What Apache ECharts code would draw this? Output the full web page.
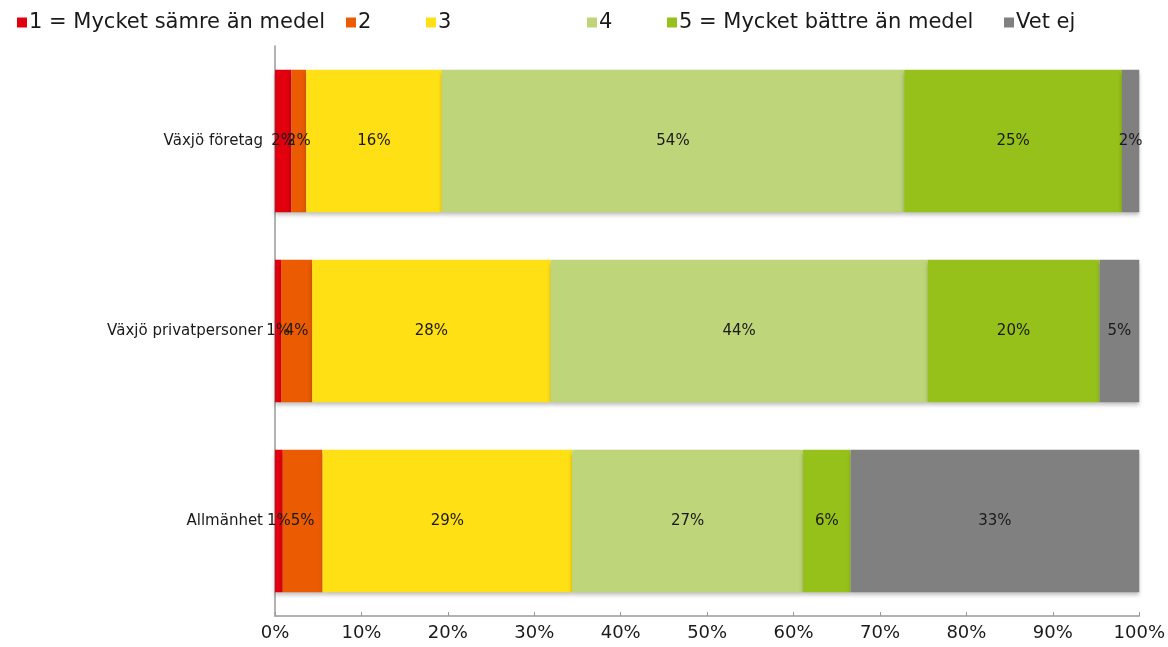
<!DOCTYPE html>
<html>
<head>
<meta charset="utf-8">
<script src="https://cdn.jsdelivr.net/npm/echarts@6/dist/echarts.min.js"></script>
<style>
  html, body { margin: 0; padding: 0; background: #fff; }
  #chart { width: 1168px; height: 647px; }
</style>
</head>
<body>
<div id="chart"></div>
<script>
// kategorier, nedifrån och upp (ECharts ritar första kategorin längst ner)
var categories = ['Allmänhet', 'Växjö privatpersoner', 'Växjö företag']
var seriesNames = ['1 = Mycket sämre än medel', '2', '3', '4', '5 = Mycket bättre än medel', 'Vet ej']
var colors = ['#e2000f', '#ea5b02', '#ffe014', '#bfd57a', '#95c11a', '#808080']

// andelar i procent
var s1 = [0.9, 0.7, 1.9]
var s2 = [4.6, 3.6, 1.7]
var s3 = [28.9, 27.6, 15.7]
var s4 = [26.7, 43.6, 53.5]
var s5 = [5.5, 19.9, 25.2]
var s6 = [33.4, 4.6, 2.0]
var values = [s1, s2, s3, s4, s5, s6]

var xTicks = [0, 10, 20, 30, 40, 50, 60, 70, 80, 90, 100]

// legendens placering, en legend per post (ojämna avstånd i originalet)
var legendLeft = [12, 341, 421, 582, 662, 999]

var font = '"DejaVu Sans", "Liberation Sans", sans-serif'

var chart = echarts.init(document.getElementById('chart'))

var legends = seriesNames.map(function (name, i) {
  return {
    data: [name],
    left: legendLeft[i],
    top: 7,
    icon: 'rect',
    itemWidth: 10,
    itemHeight: 10,
    itemGap: 0,
    textStyle: {
      fontFamily: font,
      fontSize: 21,
      color: '#1a1a1a',
      padding: [0, 0, 0, -3]
    }
  }
})

var series = seriesNames.map(function (name, i) {
  return {
    name: name,
    type: 'bar',
    stack: 'total',
    barWidth: '75%',
    color: colors[i],
    itemStyle: {
      color: colors[i],
      shadowColor: 'rgba(0,0,0,0.25)',
      shadowBlur: 4,
      shadowOffsetY: 3
    },
    label: {
      show: true,
      position: 'inside',
      color: '#1a1a1a',
      fontFamily: font,
      fontSize: 15,
      formatter: function (p) {
        return Math.round(p.value) + '%'
      }
    },
    data: values[i]
  }
})

chart.setOption({
  animation: false,
  legend: legends,
  grid: {
    left: 275,
    right: 28,
    top: 46,
    bottom: 31
  },
  xAxis: {
    type: 'value',
    min: 0,
    max: 100,
    interval: 10,
    axisLine: {
      show: true,
      lineStyle: { color: '#999', width: 1.5 }
    },
    axisTick: {
      show: true,
      inside: true,
      length: 4,
      lineStyle: { color: '#999' }
    },
    splitLine: { show: false },
    axisLabel: {
      fontFamily: font,
      fontSize: 18,
      color: '#1a1a1a',
      margin: 8,
      formatter: function (v) {
        return xTicks.indexOf(v) >= 0 ? v + '%' : ''
      }
    }
  },
  yAxis: {
    type: 'category',
    data: categories,
    axisLine: {
      show: true,
      lineStyle: { color: '#999', width: 1.5 }
    },
    axisTick: { show: false },
    axisLabel: {
      fontFamily: font,
      fontSize: 15,
      color: '#1a1a1a',
      margin: 12
    }
  },
  series: series
})

window.addEventListener('resize', function () {
  chart.resize()
})
</script>
</body>
</html>
